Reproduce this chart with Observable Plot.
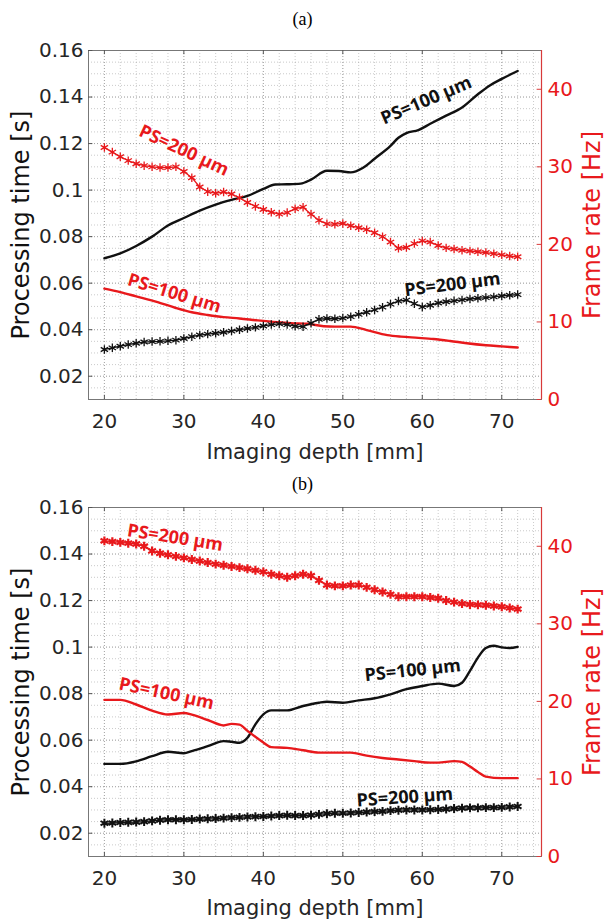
<!DOCTYPE html>
<html><head><meta charset="utf-8">
<script src="https://cdn.jsdelivr.net/npm/d3@7"></script>
<script src="https://cdn.jsdelivr.net/npm/@observablehq/plot@0.6"></script>
<style>
body{margin:0;background:#fff;width:605px;height:923px;overflow:hidden;position:relative;}
.cap{position:absolute;left:0;width:605px;text-align:center;font-family:"Liberation Serif","Times New Roman",serif;font-size:18px;color:#000;line-height:18px;}
.panel{position:absolute;left:0;}
</style></head><body>
<div class="cap" style="top:10px">(a)</div>
<div id="pa" class="panel" style="top:35px"></div>
<div class="cap" style="top:475px">(b)</div>
<div id="pb" class="panel" style="top:495px"></div>
<script>
// ---------- axis ticks ----------
const xTicks = [20, 30, 40, 50, 60, 70];
const yTicks = [0.02, 0.04, 0.06, 0.08, 0.1, 0.12, 0.14, 0.16];
const yTickLabels = ["0.02", "0.04", "0.06", "0.08", "0.1", "0.12", "0.14", "0.16"];
const hzTicks = [0, 10, 20, 30, 40];
const hzTickLabels = ["0", "10", "20", "30", "40"];

// ---------- panel (a) data ----------
// PS=100 µm processing time [s] (black solid line)
const a100Depth = [20, 22, 24, 26, 28, 30, 32, 34, 36, 38, 40, 41.5, 43, 44.7, 46, 48, 49.5, 51, 52.5, 54, 56, 57, 58, 59.5, 61, 63, 65, 67, 68.5, 70, 72];
const a100Time = [0.0707, 0.0728, 0.076, 0.080, 0.0848, 0.088, 0.0912, 0.0938, 0.0958, 0.0975, 0.1005, 0.1024, 0.1025, 0.1028, 0.1045, 0.1083, 0.1082, 0.1076, 0.1095, 0.1135, 0.119, 0.1225, 0.1245, 0.1258, 0.1285, 0.132, 0.1355, 0.1412, 0.145, 0.1478, 0.1512];
// PS=100 µm frame rate [Hz] (red solid line)
const a100RateDepth = [20, 22, 24, 26.7, 29, 31, 33, 35, 37, 39.3, 41.8, 43.5, 45.6, 47.6, 49, 51, 53, 55.6, 57.3, 59.5, 61.4, 63.5, 65.6, 68, 70, 72];
const a100Rate = [14.3, 13.85, 13.3, 12.55, 11.8, 11.25, 10.9, 10.62, 10.45, 10.2, 9.97, 9.85, 9.76, 9.45, 9.4, 9.4, 8.95, 8.3, 8.1, 7.95, 7.8, 7.55, 7.26, 7.0, 6.85, 6.7];
// PS=200 µm (asterisk markers), depths 20..72 mm
const depth1mm = [20,21,22,23,24,25,26,27,28,29,30,31,32,33,34,35,36,37,38,39,40,41,42,43,44,45,46,47,48,49,50,51,52,53,54,55,56,57,58,59,60,61,62,63,64,65,66,67,68,69,70,71,72];
const a200Time = [0.0315,0.0322,0.0329,0.0336,0.0342,0.0347,0.0349,0.035,0.0352,0.0355,0.0362,0.037,0.0377,0.0381,0.0385,0.0389,0.0394,0.04,0.0405,0.041,0.0416,0.0422,0.0425,0.0422,0.0415,0.0413,0.0428,0.0445,0.0448,0.0447,0.045,0.0456,0.0466,0.0475,0.0485,0.0497,0.051,0.0523,0.0527,0.0512,0.0498,0.0505,0.0515,0.052,0.0524,0.0528,0.0532,0.0535,0.0538,0.0541,0.0545,0.0548,0.0551];
const a200Rate = [32.5,31.9,31.3,30.8,30.4,30.15,30.0,29.9,29.9,30.0,29.4,28.6,27.4,26.8,26.6,26.75,26.5,26.0,25.4,24.9,24.5,24.15,23.9,24.1,24.6,24.8,23.9,23.1,22.65,22.6,22.7,22.4,22.15,21.9,21.5,21.0,20.3,19.5,19.6,20.1,20.45,20.3,19.85,19.55,19.4,19.25,19.15,19.05,18.95,18.8,18.65,18.5,18.4];

// ---------- panel (b) data ----------
const b100Depth = [20,22,24,26,28,30,31,33,35,36,37,38,39,40,41,43,45,47,48,50,52,54,56,58,60,62,64,65,66,67,68,69,70,71,72];
const b100Time = [0.0498,0.0498,0.0509,0.0531,0.055,0.0544,0.0553,0.0574,0.0596,0.0593,0.0589,0.061,0.0668,0.0711,0.0728,0.0728,0.0747,0.0761,0.0765,0.0761,0.0771,0.078,0.0797,0.0819,0.0833,0.0843,0.0833,0.0847,0.0898,0.0955,0.0996,0.1006,0.0999,0.0996,0.1001];
const b100RateDepth = [20,22,24,26,28,30,31,33,35,36,37,38,40,41,43,45,47,49,51,53,55,57,59,61,62,64,65,66,67,68,70,72];
const b100Rate = [20.2,20.2,19.6,18.8,18.3,18.5,18.3,17.6,16.9,17.1,17.0,16.2,14.7,14.1,14.0,13.7,13.4,13.4,13.4,13.0,12.7,12.5,12.3,12.1,12.1,12.3,12.2,11.6,10.9,10.3,10.1,10.1];
const b200Time = [0.0243,0.0244,0.0246,0.0247,0.0248,0.025,0.0253,0.0256,0.0258,0.0258,0.0258,0.0259,0.0261,0.0262,0.0263,0.0265,0.0267,0.0268,0.027,0.0271,0.0272,0.0274,0.0276,0.0277,0.0276,0.0276,0.0278,0.0281,0.0284,0.0286,0.0286,0.0287,0.0289,0.0291,0.0293,0.0294,0.0297,0.0299,0.03,0.03,0.03,0.0301,0.0302,0.0304,0.0306,0.0308,0.0309,0.0309,0.031,0.031,0.0311,0.0313,0.0315];
const b200Rate = [40.7,40.6,40.5,40.4,40.3,40.0,39.4,39.1,38.9,38.7,38.5,38.3,38.1,37.9,37.7,37.55,37.4,37.25,37.1,36.9,36.7,36.4,36.2,36.0,36.2,36.4,36.2,35.6,35.0,34.9,34.9,35.0,35.0,34.7,34.4,34.1,33.8,33.5,33.5,33.5,33.5,33.4,33.3,33.0,32.8,32.6,32.5,32.45,32.4,32.3,32.2,32.05,31.9];

// ---------- annotations (data coordinates) ----------
const aLabels = [
  {t: "PS=200 µm", x: 30.0, y: 0.117, r: 25, c: "red"},
  {t: "PS=100 µm", x: 60.5, y: 0.1385, r: -23, c: "black"},
  {t: "PS=100 µm", x: 28.8, y: 0.0556, r: 17, c: "red"},
  {t: "PS=200 µm", x: 63.8, y: 0.0594, r: -7, c: "black"}
];
const bLabels = [
  {t: "PS=200 µm", x: 28.9, y: 0.147, r: 9, c: "red"},
  {t: "PS=100 µm", x: 27.8, y: 0.080, r: 12, c: "red"},
  {t: "PS=100 µm", x: 58.8, y: 0.090, r: -6, c: "black"},
  {t: "PS=200 µm", x: 57.8, y: 0.0354, r: -4, c: "black"}
];

// ---------- styling ----------
const RED = "#e8191c";
const AXRED = "#d83a3a";
const BLK = "#111111";
const xDom = [18, 75];
const yMin = 0.01, yMax = 0.16, hzMax = 45;
const hzToS = hz => yMin + hz * (yMax - yMin) / hzMax;
const xMinor = d3.range(18, 75.01, 2);
const yMinor = d3.range(0.01, 0.1601, 0.005);

const pts = (xs, ys) => xs.map((x, i) => ({x, y: ys[i]}));

function panel(el, cfg) {
  const colorOf = c => c === "red" ? RED : BLK;
  const marks = [
    Plot.gridX(xMinor, {stroke: "#8a8a8a", strokeOpacity: 0.45, strokeDasharray: "1,2"}),
    Plot.gridY(yMinor, {stroke: "#8a8a8a", strokeOpacity: 0.45, strokeDasharray: "1,2"}),
    Plot.gridX(xTicks, {stroke: "#8a8a8a", strokeOpacity: 0.6, strokeDasharray: "1,2"}),
    Plot.gridY(yTicks, {stroke: "#8a8a8a", strokeOpacity: 0.6, strokeDasharray: "1,2"}),
    Plot.frame({stroke: "#777"}),
    Plot.ruleX([xDom[1]], {stroke: AXRED, strokeWidth: 1.2}),
    Plot.ruleX(xTicks, {x: d => d, y1: yMin, y2: yMin + 0.0018, stroke: "#555"}),
    Plot.ruleX(xTicks, {x: d => d, y1: yMax - 0.0018, y2: yMax, stroke: "#555"}),
    Plot.ruleY(yTicks, {y: d => d, x1: xDom[0], x2: xDom[0] + 0.55, stroke: "#555"}),
    Plot.ruleY(hzTicks, {y: d => hzToS(d), x1: xDom[1] - 0.55, x2: xDom[1], stroke: AXRED}),
    // solid lines
    Plot.line(cfg.time100, {x: "x", y: "y", stroke: BLK, strokeWidth: 2.4, curve: "monotone-x"}),
    Plot.line(cfg.rate100, {x: "x", y: d => hzToS(d.y), stroke: RED, strokeWidth: 2.4, curve: "monotone-x"}),
    // marker series
    Plot.line(cfg.time200, {x: "x", y: "y", stroke: BLK, strokeWidth: 1.3}),
    Plot.dot(cfg.time200, {x: "x", y: "y", symbol: "asterisk", r: cfg.mr, stroke: BLK, strokeWidth: cfg.mwB, fill: "none"}),
    Plot.line(cfg.rate200, {x: "x", y: d => hzToS(d.y), stroke: RED, strokeWidth: 1.3}),
    Plot.dot(cfg.rate200, {x: "x", y: d => hzToS(d.y), symbol: "asterisk", r: cfg.mr, stroke: RED, strokeWidth: cfg.mwR, fill: "none"}),
    // annotations
    Plot.text(cfg.labels, {x: "x", y: "y", text: "t", rotate: "r", fill: d => colorOf(d.c),
      fontFamily: "Open Sans", fontWeight: 700, fontSize: 18}),
    // axes
    Plot.axisX({ticks: xTicks, tickSize: 0, tickPadding: 14, fontSize: 20, color: "#262626", label: null}),
    Plot.axisY({anchor: "left", ticks: yTicks, tickFormat: (d, i) => yTickLabels[i], tickSize: 0, tickPadding: 5, fontSize: 20, color: "#262626", label: null}),
    Plot.axisY(hzTicks.map(hzToS), {anchor: "right", tickFormat: (d, i) => hzTickLabels[i], tickSize: 0, tickPadding: 6, fontSize: 20, color: RED, label: null}),
    // axis titles
    Plot.text(["Imaging depth [mm]"], {text: d => d, frameAnchor: "bottom", textAnchor: "middle", lineAnchor: "middle", dy: cfg.titleDy, fontSize: 21, fill: "#262626"}),
    Plot.text(["Processing time [s]"], {text: d => d, frameAnchor: "left", textAnchor: "middle", lineAnchor: "middle", dx: -67, rotate: -90, fontSize: 24, fill: "#111"}),
    Plot.text(["Frame rate [Hz]"], {text: d => d, frameAnchor: "right", textAnchor: "middle", lineAnchor: "middle", dx: 51, rotate: -90, fontSize: 24, fill: RED})
  ];
  const svg = Plot.plot({
    width: 605, height: cfg.height,
    marginLeft: 88, marginRight: 64, marginTop: cfg.mt, marginBottom: cfg.mb,
    x: {domain: xDom}, y: {domain: [yMin, yMax]},
    style: {fontFamily: "DejaVu Sans", background: "white", overflow: "visible"},
    marks
  });
  document.getElementById(el).appendChild(svg);
}

panel("pa", {
  height: 435, mt: 15, mb: 71, mr: 4, mwB: 1.3, mwR: 1.3, titleDy: 53,
  time100: pts(a100Depth, a100Time), rate100: pts(a100RateDepth, a100Rate),
  time200: pts(depth1mm, a200Time), rate200: pts(depth1mm, a200Rate), labels: aLabels
});
panel("pb", {
  height: 428, mt: 12, mb: 67, mr: 4.2, mwB: 2, mwR: 2.2, titleDy: 52,
  time100: pts(b100Depth, b100Time), rate100: pts(b100RateDepth, b100Rate),
  time200: pts(depth1mm, b200Time), rate200: pts(depth1mm, b200Rate), labels: bLabels
});
</script>
</body></html>
